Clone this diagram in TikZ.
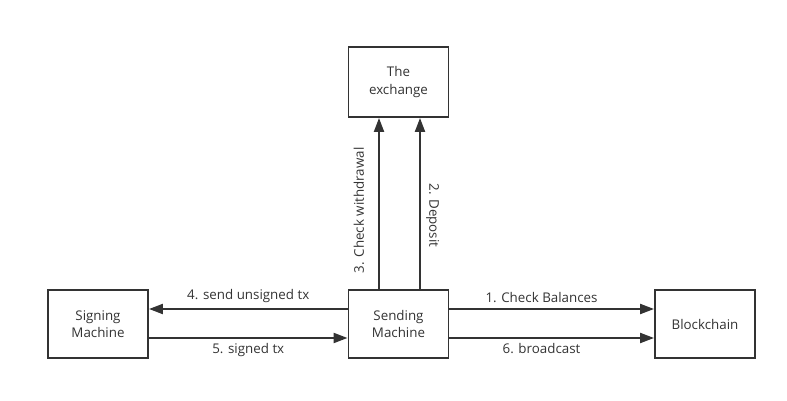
\documentclass[tikz,border=0pt]{standalone}
\usepackage{fontspec}
\setmainfont{Open Sans}
\usepackage{xcolor}
\usepackage{tikz}
\usetikzlibrary{arrows.meta,positioning,calc}
\definecolor{ink}{HTML}{333333}
\tikzset{
  >={Triangle[length=2.8mm, width=2mm]},
  machine/.style={draw=ink, line width=1.1pt, fill=white, align=center, text=ink,
    font=\fontsize{7.6}{10}\selectfont, minimum width=2cm, minimum height=1.36cm, inner sep=2pt},
  flow/.style={->, draw=ink, line width=1.2pt},
  lbl/.style={text=ink, font=\fontsize{7.6}{9}\selectfont, inner sep=2pt},
}

\begin{document}
\begin{tikzpicture}[x=0.02cm, y=-0.02cm]
  \useasboundingbox (0,0) rectangle (787,401);
  \node[machine, minimum height=1.4cm] (ex) at (398.5,82)  {The\\exchange};
  \node[machine] (sgn) at (98,324)    {Signing\\Machine};
  \node[machine] (snd) at (398.5,324) {Sending\\Machine};
  \node[machine] (bc)  at (705,324)   {Blockchain};
  % up to the exchange
  \draw[flow] ([xshift=-0.39cm]snd.north) -- node[lbl, rotate=90, anchor=south, outer ysep=6.5pt, pos=0.46]{3. Check withdrawal} ([xshift=-0.39cm]ex.south);
  \draw[flow] ([xshift=0.43cm]snd.north) -- node[lbl, rotate=-90, anchor=south, outer ysep=1.5pt, pos=0.43]{2. Deposit} ([xshift=0.43cm]ex.south);
  % signing machine
  \draw[flow] ([yshift=0.3cm]snd.west) -- node[lbl, above, outer ysep=1.6pt]{4. send unsigned tx} ([yshift=0.3cm]sgn.east);
  \draw[flow] ([yshift=-0.28cm]sgn.east) -- node[lbl, below, outer ysep=1pt]{5. signed tx} ([yshift=-0.28cm]snd.west);
  % blockchain
  \draw[flow] ([yshift=0.3cm]snd.east) -- node[lbl, above, outer ysep=1.6pt, pos=0.45]{1. Check Balances} ([yshift=0.3cm]bc.west);
  \draw[flow] ([yshift=-0.28cm]snd.east) -- node[lbl, below, outer ysep=1pt, pos=0.45]{6. broadcast} ([yshift=-0.28cm]bc.west);
\end{tikzpicture}
\end{document}
